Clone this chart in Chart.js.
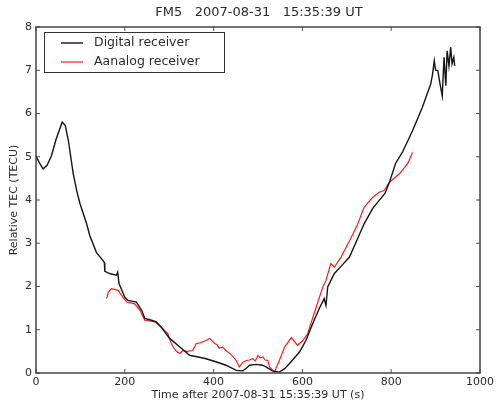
<!DOCTYPE html>
<html>
<head>
<meta charset="utf-8">
<script src="https://cdn.jsdelivr.net/npm/chart.js@4"></script>
<style>
  html, body { margin: 0; padding: 0; background: #fff; }
  #wrap { width: 497px; height: 406px; }
</style>
</head>
<body>
<div id="wrap"><canvas id="tec"></canvas></div>
<script>
// values
const chartTitle = 'FM5   2007-08-31   15:35:39 UT';
const xLabel = 'Time after 2007-08-31 15:35:39 UT (s)';
const yLabel = 'Relative TEC (TECU)';
const seriesNames = ['Digital receiver', 'Aanalog receiver'];

const digitalTime = [0, 8, 16, 25, 35, 45, 59, 66, 73, 84, 92, 99, 114, 121, 136, 151, 154, 155, 166, 181, 184, 187, 192, 200, 207, 226, 238, 245, 260, 271, 282, 301, 324, 346, 365, 383, 405, 428, 451, 466, 475, 481, 496, 510, 518, 532, 548, 560, 571, 593, 608, 623, 638, 649, 653, 657, 672, 690, 706, 724, 739, 758, 773, 786, 796, 810, 825, 848, 870, 889, 893, 897, 900, 905, 908, 912, 915, 919, 923, 926, 930, 934, 937, 941, 943];
const digitalTec = [5.02, 4.85, 4.72, 4.8, 5.03, 5.4, 5.8, 5.72, 5.37, 4.6, 4.2, 3.92, 3.45, 3.18, 2.79, 2.6, 2.55, 2.35, 2.3, 2.26, 2.33, 2.06, 1.95, 1.75, 1.68, 1.64, 1.45, 1.26, 1.22, 1.18, 1.06, 0.8, 0.6, 0.41, 0.37, 0.33, 0.26, 0.18, 0.06, 0.05, 0.12, 0.18, 0.2, 0.18, 0.14, 0.05, 0.02, 0.1, 0.22, 0.48, 0.75, 1.14, 1.49, 1.72, 1.56, 1.99, 2.3, 2.5, 2.68, 3.1, 3.45, 3.8, 3.99, 4.15, 4.41, 4.85, 5.1, 5.6, 6.14, 6.68, 6.9, 7.22, 7.0, 6.99, 6.8, 6.57, 6.41, 7.3, 6.64, 7.45, 7.1, 7.53, 7.15, 7.3, 7.1];

const analogTime = [159, 163, 170, 185, 196, 204, 222, 234, 245, 260, 268, 279, 290, 297, 303, 309, 316, 324, 331, 340, 353, 361, 370, 383, 391, 396, 402, 408, 413, 420, 428, 440, 451, 458, 466, 474, 481, 488, 494, 500, 505, 511, 516, 522, 526, 537, 548, 560, 575, 589, 601, 612, 619, 631, 646, 653, 664, 672, 687, 706, 724, 739, 758, 773, 784, 796, 818, 837, 848];
const analogTec = [1.72, 1.87, 1.95, 1.91, 1.75, 1.64, 1.6, 1.45, 1.22, 1.2, 1.18, 1.1, 0.98, 0.91, 0.72, 0.6, 0.5, 0.45, 0.52, 0.5, 0.52, 0.68, 0.7, 0.75, 0.8, 0.75, 0.69, 0.65, 0.57, 0.6, 0.52, 0.42, 0.29, 0.14, 0.25, 0.29, 0.3, 0.33, 0.28, 0.41, 0.35, 0.37, 0.3, 0.29, 0.14, 0.02, 0.29, 0.6, 0.82, 0.64, 0.75, 0.91, 1.14, 1.52, 1.99, 2.14, 2.53, 2.45, 2.68, 3.05, 3.43, 3.83, 4.06, 4.18, 4.22, 4.41, 4.6, 4.84, 5.1];

const xTicks = [0, 200, 400, 600, 800, 1000];
const yTicks = [0, 1, 2, 3, 4, 5, 6, 7, 8];

const FONT = '"DejaVu Sans", Verdana, sans-serif';
const TEXT = '#2b2b2b';

function toPoints(xs, ys) {
  return xs.map((x, i) => ({ x: x, y: ys[i] }));
}

// frame, inward ticks on four sides, title and boxed legend, matplotlib style
const framePlugin = {
  id: 'frame',
  afterDraw(chart) {
    const ctx = chart.ctx;
    const a = chart.chartArea;
    const xs = chart.scales.x;
    const ys = chart.scales.y;
    ctx.save();

    ctx.strokeStyle = '#555';
    ctx.lineWidth = 1;
    ctx.beginPath();
    xTicks.forEach(v => {
      const px = xs.getPixelForValue(v);
      ctx.moveTo(px, a.bottom); ctx.lineTo(px, a.bottom - 4);
      ctx.moveTo(px, a.top); ctx.lineTo(px, a.top + 4);
    });
    yTicks.forEach(v => {
      const py = ys.getPixelForValue(v);
      ctx.moveTo(a.left, py); ctx.lineTo(a.left + 4, py);
      ctx.moveTo(a.right, py); ctx.lineTo(a.right - 4, py);
    });
    ctx.stroke();

    ctx.strokeStyle = '#444';
    ctx.lineWidth = 1.5;
    ctx.strokeRect(a.left, a.top, a.right - a.left, a.bottom - a.top);

    // title
    ctx.fillStyle = TEXT;
    ctx.font = '13px ' + FONT;
    ctx.textAlign = 'center';
    ctx.textBaseline = 'middle';
    ctx.fillText(chartTitle, 259, 13);

    // legend
    const bx = 44, by = 32, bw = 180, bh = 40;
    ctx.fillStyle = '#fff';
    ctx.fillRect(bx, by, bw, bh);
    ctx.strokeStyle = '#333';
    ctx.lineWidth = 1;
    ctx.strokeRect(bx + 0.5, by + 0.5, bw, bh);
    ctx.font = '12.5px ' + FONT;
    ctx.textAlign = 'left';
    chart.data.datasets.forEach((ds, i) => {
      const ry = by + 11 + i * 19;
      ctx.strokeStyle = ds.borderColor;
      ctx.lineWidth = ds.borderWidth;
      ctx.beginPath();
      ctx.moveTo(61, ry); ctx.lineTo(83, ry);
      ctx.stroke();
      ctx.fillStyle = TEXT;
      ctx.fillText(ds.label, 94, ry);
    });

    ctx.restore();
  }
};

new Chart(document.getElementById('tec'), {
  type: 'line',
  data: {
    datasets: [
      {
        label: seriesNames[0],
        data: toPoints(digitalTime, digitalTec),
        borderColor: '#151515',
        borderWidth: 1.4,
        pointRadius: 0,
        tension: 0
      },
      {
        label: seriesNames[1],
        data: toPoints(analogTime, analogTec),
        borderColor: '#ff1a1a',
        borderWidth: 1.2,
        pointRadius: 0,
        tension: 0
      }
    ]
  },
  options: {
    responsive: true,
    maintainAspectRatio: false,
    animation: false,
    layout: { padding: { top: 27, right: 16, left: 0, bottom: 0 } },
    plugins: {
      legend: { display: false },
      title: { display: false },
      tooltip: { enabled: false }
    },
    scales: {
      x: {
        type: 'linear',
        min: 0,
        max: 1000,
        afterFit(scale) { scale.height = 33; },
        afterBuildTicks(scale) { scale.ticks = xTicks.map(v => ({ value: v })); },
        grid: { display: false, drawTicks: false },
        border: { display: false },
        ticks: {
          color: TEXT,
          font: { family: FONT, size: 11 },
          padding: 3,
          maxRotation: 0,
          callback: v => String(v)
        },
        title: {
          display: true,
          text: xLabel,
          color: TEXT,
          font: { family: FONT, size: 11 },
          padding: { top: 0, bottom: 4 }
        }
      },
      y: {
        type: 'linear',
        min: 0,
        max: 8,
        afterFit(scale) { scale.width = 36; },
        afterBuildTicks(scale) { scale.ticks = yTicks.map(v => ({ value: v })); },
        grid: { display: false, drawTicks: false },
        border: { display: false },
        ticks: { color: TEXT, font: { family: FONT, size: 11 }, padding: 4 },
        title: {
          display: true,
          text: yLabel,
          color: TEXT,
          font: { family: FONT, size: 11 },
          padding: { top: 8, bottom: 0 }
        }
      }
    }
  },
  plugins: [framePlugin]
});
</script>
</body>
</html>
